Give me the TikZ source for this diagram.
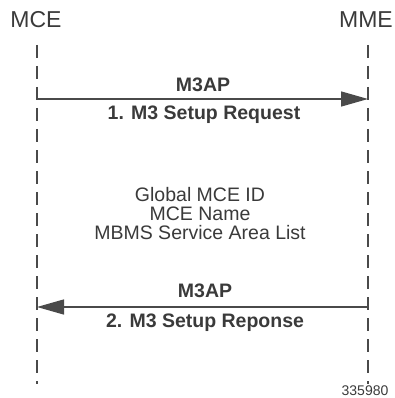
\documentclass[tikz,border=0pt]{standalone}
\usepackage{fontspec}
\setmainfont{Liberation Sans}
\usetikzlibrary{arrows.meta}
\definecolor{txtgray}{HTML}{3A3A3A}
\definecolor{linegray}{HTML}{4A4A4A}
\tikzset{
  entity/.style={text=txtgray, inner sep=0pt, font=\fontsize{23}{26}\selectfont},
  lifeline/.style={draw=linegray, line width=1.2pt, dash pattern=on 13pt off 8pt},
  msg/.style={draw=linegray, line width=1.3pt, -{Triangle[length=27pt,width=15pt]}},
  msglabel/.style={text=txtgray, inner sep=0pt, font=\bfseries\fontsize{19.5}{22}\selectfont},
  infotext/.style={text=txtgray, inner sep=0pt, align=center, font=\fontsize{19.5}{20}\selectfont},
}
\begin{document}
\begin{tikzpicture}[x=1pt, y=-1pt, line join=round]
	\useasboundingbox (0,0) rectangle (394,398);
	% entities and their lifelines
	\node[entity] (mce) at (36,20) {MCE};
	\node[entity] (mme) at (366,20) {MME};
	\coordinate (mcetop) at (37,45);
	\coordinate (mcebot) at (37,384);
	\coordinate (mmetop) at (368,45);
	\coordinate (mmebot) at (368,384);
	\draw[lifeline] (mcetop)--(mcebot);
	\draw[lifeline] (mmetop)--(mmebot);
	% 1. setup request
	\coordinate (reqa) at (37,99);
	\coordinate (reqb) at (368,99);
	\draw[msg] (reqa)--(reqb);
	\node[msglabel] (reqproto) at (203,85) {M3AP};
	\node[msglabel] (reqname) at (204,115) {1. M3 Setup Request};
	% IEs
	\node[infotext] (ie1) at (200,195) {Global MCE ID};
	\node[infotext] (ie2) at (200,214) {MCE Name};
	\node[infotext] (ie3) at (200,233) {MBMS Service Area List};
	% 2. setup response
	\coordinate (rspa) at (368,307);
	\coordinate (rspb) at (37,307);
	\draw[msg] (rspa)--(rspb);
	\node[msglabel] (rspproto) at (205,291) {M3AP};
	\node[msglabel] (rspname) at (205,323) {2. M3 Setup Reponse};
	\node[text=txtgray, inner sep=0pt, font=\fontsize{14}{15}\selectfont] (figno) at (365,391) {335980};
\end{tikzpicture}
\end{document}
